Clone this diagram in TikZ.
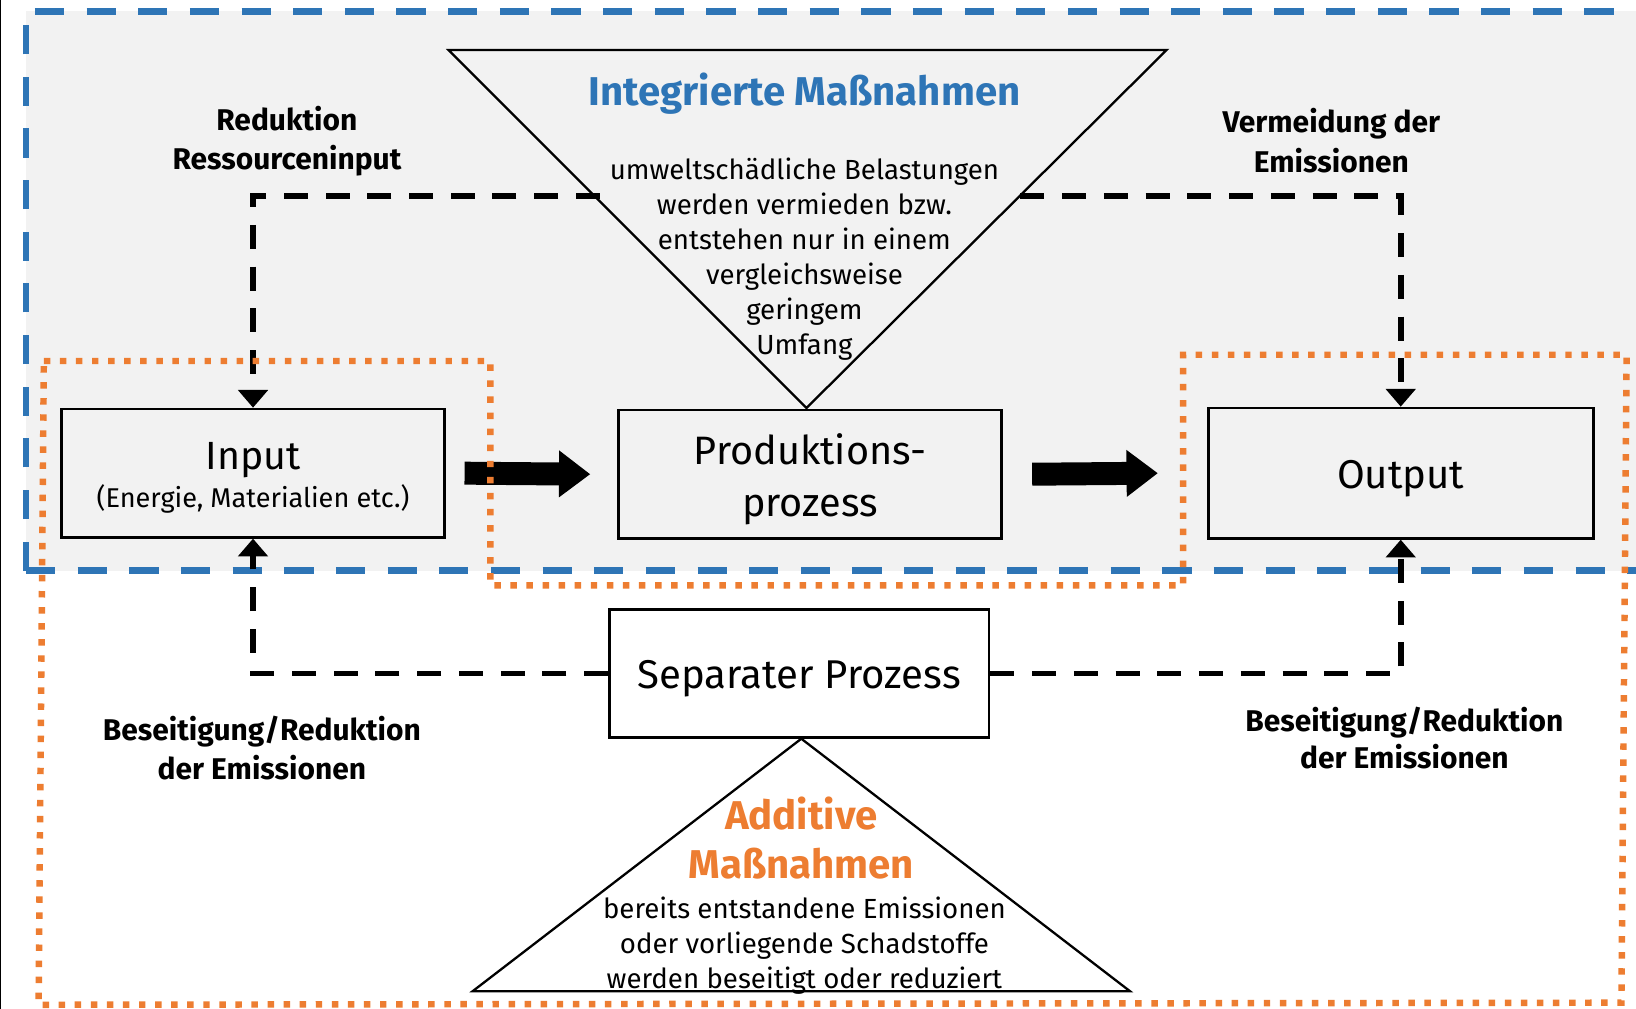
\documentclass[tikz,border=0pt]{standalone}
\usepackage{fontspec}
\setmainfont{Fira Sans}
\usetikzlibrary{arrows.meta}
\definecolor{bblue}{HTML}{2E75B6}
\definecolor{borange}{HTML}{ED7D31}
\definecolor{bgray}{HTML}{F2F2F2}
\begin{document}
\begin{tikzpicture}[x=1pt,y=-1pt,
  box/.style={draw=black,line width=2.5pt,minimum width=367pt,minimum height=123pt,inner sep=0pt},
  boxtext/.style={anchor=base,inner sep=0pt,font=\fontsize{38.5}{44}\selectfont},
  conn/.style={line width=5.5pt,dash pattern=on 23pt off 17pt,-{Triangle[length=17pt,width=28pt]}},
  bigarrow/.style={line width=22pt,-{Triangle[length=30pt,width=43pt]}},
  lbl/.style={font=\fontsize{28.7}{37}\selectfont\bfseries,align=center},
  body/.style={font=\fontsize{26.5}{33.6}\selectfont,align=center},
  tri/.style={draw=black,line width=2.2pt,line join=miter},
  bluedash/.style={draw=bblue,line width=6.5pt,dash pattern=on 28pt off 21.5pt},
  orangedot/.style={draw=borange,line width=6.2pt,dash pattern=on 6.2pt off 9.2pt}
]
\useasboundingbox (0,0) rectangle (1568,967);
\clip (0,0) rectangle (1568,967);
\fill[white] (0,0) rectangle (1568,967);
\fill[bgray] (25,11) rectangle (1600,547);
\draw[bluedash] (25,547) -- (25,11) -- (1600,11);
\draw[bluedash] (25,547) -- (1600,547);
\draw[black,line width=1.2pt] (0.6,0) -- (0.6,967);

% boxes
\node[box] (in) at (242.5,453.5) {};
\node[box] (prod) at (776.5,454.5) {};
\node[box,minimum width=369pt,minimum height=125pt] (out) at (1342.5,453.5) {};
\node[box,minimum width=364pt] (sep) at (766,645.5) {};
\node[boxtext,font=\fontsize{37.7}{44}\selectfont] (inT) at (242.5,450) {Input};
\node[boxtext,font=\fontsize{26}{30}\selectfont] (inS) at (242.5,486) {(Energie, Materialien etc.)};
\node[boxtext,font=\fontsize{38}{44}\selectfont] (prodT1) at (776.5,445) {Produktions-};
\node[boxtext,font=\fontsize{38}{44}\selectfont] (prodT2) at (776.5,495) {prozess};
\node[boxtext] (outT) at (1342.5,468) {Output};
\node[boxtext] (sepT) at (766,660) {Separater Prozess};

% triangles
\coordinate (t1a) at (430,48);
\coordinate (t1b) at (1118,48);
\coordinate (t1c) at (773,391);
\draw[tri] (t1a) -- (t1b) -- (t1c) -- cycle;
\coordinate (t2a) at (768,708);
\coordinate (t2b) at (1083,950);
\coordinate (t2c) at (453,950);
\draw[tri] (t2a) -- (t2b) -- (t2c) -- cycle;

% connectors
\coordinate (tl) at (575,188);
\coordinate (tr) at (978,188);
\draw[conn] (tl) -- (tl -| in.north) -- (in.north);
\draw[conn] (tr) -- (tr -| out.north) -- (out.north);
\draw[conn] (sep.west) -- (sep.west -| in.south) -- (in.south);
\draw[conn] (sep.east) -- (sep.east -| out.south) -- (out.south);

% thick arrows
\draw[bigarrow] ([xshift=18pt]in.east) -- ([xshift=-26pt]prod.west);
\draw[bigarrow] ([xshift=28pt]prod.east) -- ([xshift=-47pt]out.west);

% orange dotted outline
\draw[orangedot] (42,346) -- (470,346) -- (470,561) -- (1134,561) -- (1134,340) -- (1559,340) -- (1554,961) -- (37,963) -- cycle;

% texts
\node[font=\fontsize{38.5}{44}\selectfont\bfseries,text=bblue] (ti) at (771,90) {Integrierte Maßnahmen};
\node[body] (tib) at (771,248.5) {umweltschädliche Belastungen\\werden vermieden bzw.\\entstehen nur in einem\\vergleichsweise\\geringem\\Umfang};
\node[font=\fontsize{38.5}{47}\selectfont\bfseries,text=borange,align=center] (ta) at (768,803) {Additive\\Maßnahmen};
\node[body] (tab) at (771,906) {bereits entstandene Emissionen\\oder vorliegende Schadstoffe\\werden beseitigt oder reduziert};

\node[lbl] (l1) at (275,135.5) {Reduktion\\Ressourceninput};
\node[lbl,font=\fontsize{28.7}{38}\selectfont\bfseries] (l2) at (1276,135) {Vermeidung der\\Emissionen};
\node[lbl,font=\fontsize{28.7}{38}\selectfont\bfseries] (l3) at (251,717) {Beseitigung/Reduktion\\der Emissionen};
\node[lbl,font=\fontsize{28.7}{35}\selectfont\bfseries] (l4) at (1346,707.5) {Beseitigung/Reduktion\\der Emissionen};
\end{tikzpicture}
\end{document}
